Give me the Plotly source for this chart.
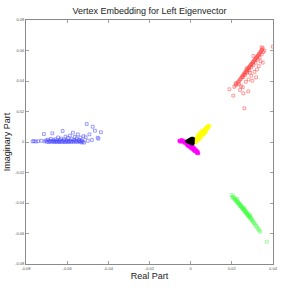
import plotly.graph_objects as go

# ---- data ----
blue_x = [-0.0768,-0.0761,-0.0752,-0.0741,-0.0725,-0.0713,-0.0709,-0.0703,
          -0.0698,-0.0694,-0.0690,-0.0686,-0.0682,-0.0679,-0.0675,-0.0672,-0.0670,-0.0667,
          -0.0663,-0.0660,-0.0657,-0.0654,-0.0650,-0.0647,-0.0644,-0.0641,-0.0638,-0.0635,
          -0.0632,-0.0629,-0.0626,-0.0622,-0.0620,-0.0617,-0.0614,-0.0611,-0.0608,-0.0605,
          -0.0602,-0.0599,-0.0596,-0.0593,-0.0590,-0.0587,-0.0584,-0.0581,-0.0578,-0.0575,
          -0.0572,-0.0569,-0.0566,-0.0563,-0.0560,-0.0557,-0.0554,-0.0551,-0.0548,-0.0545,
          -0.0542,-0.0539,-0.0536,-0.0533,-0.0530,-0.0527,-0.0524,-0.0521,-0.0518,
          -0.0505,-0.0492,-0.0480,-0.0476,-0.0465,-0.0452,-0.0448,-0.0436,-0.0510,-0.0500]
blue_y = [0.0004,0.0006,0.0003,0.0005,0.0008,0.0052,0.0004,0.0010,
          0.0002,0.0015,0.0000,0.0008,0.0003,0.0020,0.0001,0.0057,0.0006,0.0012,
          0.0000,0.0004,0.0018,0.0002,0.0009,0.0001,0.0030,0.0005,0.0000,0.0013,
          0.0003,0.0022,0.0001,0.0072,0.0007,0.0002,0.0016,0.0000,0.0035,0.0004,
          0.0011,0.0001,0.0026,0.0006,0.0000,0.0042,0.0009,0.0002,0.0019,0.0004,
          0.0061,0.0001,0.0012,0.0033,0.0003,0.0008,0.0024,0.0000,0.0050,0.0006,
          0.0014,0.0002,0.0029,0.0005,-0.0003,0.0010,0.0002,0.0038,-0.0004,
          0.0118,0.0050,0.0013,0.0100,0.0074,0.0028,0.0022,0.0064,0.0031,0.0008]

red_x = [0.0212,0.0218,0.0222,0.0228,0.0231,0.0236,0.0240,0.0243,0.0247,0.0250,0.0254,0.0257,
         0.0260,0.0263,0.0266,0.0269,0.0272,0.0275,0.0278,0.0281,0.0284,0.0287,0.0290,0.0293,
         0.0296,0.0299,0.0302,0.0305,0.0308,0.0311,0.0314,0.0317,0.0320,0.0323,0.0326,0.0329,
         0.0332,0.0335,0.0338,0.0341,0.0344,0.0347,0.0350,0.0345,
         0.0255,0.0265,0.0275,0.0285,0.0295,0.0305,0.0315,0.0325,0.0335,0.0345,0.0352,0.0358,
         0.0305,0.0350,0.0331,0.0272,0.0288,0.0318,0.0300,0.0219,0.0235,0.0253,0.0188,0.0240,
         0.0280,0.0207,0.0256,0.0261,0.0399,0.0310,0.0295,0.0322,0.0340,0.0282,0.0268,0.0245]
red_y = [0.0362,0.0371,0.0380,0.0386,0.0395,0.0401,0.0410,0.0414,0.0423,0.0428,0.0436,0.0440,
         0.0447,0.0452,0.0458,0.0462,0.0469,0.0473,0.0480,0.0484,0.0491,0.0495,0.0502,0.0506,
         0.0512,0.0516,0.0523,0.0527,0.0533,0.0537,0.0544,0.0548,0.0554,0.0558,0.0565,0.0569,
         0.0576,0.0581,0.0588,0.0594,0.0601,0.0608,0.0615,0.0621,
         0.0425,0.0440,0.0455,0.0470,0.0490,0.0505,0.0520,0.0540,0.0555,0.0575,0.0590,0.0599,
         0.0564,0.0520,0.0498,0.0483,0.0454,0.0424,0.0402,0.0385,0.0378,0.0359,0.0346,0.0341,
         0.0332,0.0304,0.0319,0.0221,0.0625,0.0460,0.0435,0.0475,0.0530,0.0410,0.0395,0.0365]

green_x = [0.0199,0.0205,0.0203,0.0210,0.0212,0.0215,0.0218,0.0220,0.0223,0.0225,0.0228,0.0230,
           0.0232,0.0234,0.0236,0.0238,0.0240,0.0242,0.0244,0.0246,0.0248,0.0250,0.0252,0.0254,
           0.0256,0.0258,0.0260,0.0262,0.0264,0.0266,0.0268,0.0270,0.0272,0.0274,0.0276,0.0278,
           0.0280,0.0282,0.0284,0.0286,0.0288,0.0290,0.0293,0.0296,0.0299,0.0302,0.0305,0.0309,
           0.0313,0.0318,0.0323,0.0328,0.0333,0.0337,0.0370,0.0225,0.0262,0.0290]
green_y = [-0.0348,-0.0358,-0.0365,-0.0362,-0.0372,-0.0375,-0.0384,-0.0378,-0.0390,-0.0388,-0.0398,-0.0394,
           -0.0404,-0.0400,-0.0410,-0.0407,-0.0418,-0.0413,-0.0424,-0.0420,-0.0430,-0.0427,-0.0437,-0.0433,
           -0.0443,-0.0440,-0.0450,-0.0446,-0.0457,-0.0453,-0.0464,-0.0460,-0.0471,-0.0466,-0.0478,-0.0473,
           -0.0484,-0.0480,-0.0491,-0.0487,-0.0497,-0.0494,-0.0505,-0.0506,-0.0516,-0.0518,-0.0528,-0.0532,
           -0.0541,-0.0550,-0.0560,-0.0570,-0.0580,-0.0588,-0.0654,-0.0372,-0.0436,-0.0480]

yellow_x = [0.0015,0.0020,0.0018,0.0025,0.0024,0.0030,0.0028,0.0035,0.0033,0.0040,0.0038,0.0045,
            0.0043,0.0050,0.0048,0.0055,0.0053,0.0060,0.0058,0.0065,0.0063,0.0070,0.0068,0.0075,
            0.0073,0.0080,0.0078,0.0085,0.0083,0.0090,0.0022,0.0032,0.0042,0.0052,0.0062,0.0072,
            0.0012,0.0036,0.0056,0.0046]
yellow_y = [-0.0003,0.0005,0.0010,0.0008,0.0016,0.0015,0.0023,0.0022,0.0030,0.0030,0.0037,0.0037,
            0.0044,0.0044,0.0051,0.0052,0.0058,0.0058,0.0066,0.0066,0.0073,0.0073,0.0080,0.0081,
            0.0088,0.0088,0.0095,0.0097,0.0102,0.0105,-0.0002,0.0008,0.0020,0.0035,0.0049,0.0064,
            0.0008,0.0045,0.0072,0.0060]

magenta_x = [-0.0044,-0.0038,-0.0035,-0.0030,-0.0028,-0.0022,-0.0020,-0.0014,-0.0012,-0.0006,-0.0004,
             0.0002,0.0004,0.0010,0.0011,0.0016,0.0017,0.0022,0.0023,0.0028,0.0029,0.0034,0.0037,
             0.0031,-0.0016,-0.0008,0.0000,0.0007,0.0014,0.0020,-0.0055,-0.0050]
magenta_y = [0.0013,0.0008,0.0001,0.0003,-0.0006,-0.0004,-0.0013,-0.0011,-0.0020,-0.0018,-0.0027,
             -0.0025,-0.0034,-0.0032,-0.0041,-0.0040,-0.0049,-0.0048,-0.0057,-0.0056,-0.0064,-0.0064,-0.0074,
             -0.0072,-0.0022,-0.0030,-0.0038,-0.0045,-0.0053,-0.0060,0.0008,0.0002]

black_x = [-0.0019,-0.0014,-0.0012,-0.0010,-0.0006,-0.0006,-0.0004,-0.0002,0.0000,0.0000,
           0.0003,0.0004,0.0005,0.0006,0.0009,0.0010,0.0010,0.0011,0.0012,0.0013]
black_y = [0.0005,0.0004,0.0010,0.0000,0.0014,-0.0002,0.0006,0.0018,-0.0006,0.0008,
           0.0022,-0.0010,0.0012,0.0002,0.0024,-0.0012,0.0016,0.0006,-0.0004,0.0020]

x_ticks = [-0.08, -0.06, -0.04, -0.02, 0, 0.02, 0.04]
x_tick_labels = ["-0.08", "-0.06", "-0.04", "-0.02", "0", "0.02", "0.04"]
y_ticks = [-0.08, -0.06, -0.04, -0.02, 0, 0.02, 0.04, 0.06, 0.08]
y_tick_labels = ["-0.08", "-0.06", "-0.04", "-0.02", "0", "0.02", "0.04", "0.06", "0.08"]

fig = go.Figure()

def add(xs, ys, color, symbol="square-open", size=2.8, opacity=0.75):
    fig.add_trace(go.Scatter(
        x=xs, y=ys, mode="markers", opacity=opacity,
        marker=dict(symbol=symbol, size=size, color=color, line=dict(color=color, width=0.5)),
        showlegend=False, hoverinfo="skip"))

add(blue_x, blue_y, "#0000ff")
add(red_x, red_y, "#ff0000")
add(green_x, green_y, "#00ff00")
add(yellow_x, yellow_y, "#ffff00", symbol="square", size=3, opacity=1)
add(magenta_x, magenta_y, "#ff00ff", symbol="square", size=3, opacity=1)
add(black_x, black_y, "#000000", symbol="square", size=2.5, opacity=1)

axis_common = dict(
    showgrid=False, zeroline=False, showline=True, linecolor="#8a8a8a", linewidth=1,
    mirror="ticks", ticks="inside", ticklen=3, tickcolor="#8a8a8a", tickwidth=0.8,
    automargin=False,
    tickfont=dict(size=4, color="#555555", family="Liberation Sans, Arial, sans-serif"),
)

fig.update_layout(
    width=291, height=291,
    margin=dict(l=26, r=18, t=20, b=27),
    paper_bgcolor="white", plot_bgcolor="white",
    font=dict(family="Liberation Sans, Arial, sans-serif", color="#222222"),
    title=dict(text="Vertex Embedding for Left Eigenvector", x=0.5, xref="paper",
               xanchor="center", y=0.964, yanchor="middle", font=dict(size=9, color="#222222")),
    xaxis=dict(range=[-0.08, 0.04], tickvals=x_ticks, ticktext=x_tick_labels,
               title=dict(text="Real Part", font=dict(size=9), standoff=1), **axis_common),
    yaxis=dict(range=[-0.08, 0.08], tickvals=y_ticks, ticktext=y_tick_labels,
               title=dict(text="Imaginary Part", font=dict(size=9), standoff=2), **axis_common),
)

fig.write_html("out.html", config={"displayModeBar": False, "staticPlot": True},
               post_script="document.body.style.margin='0';document.body.style.padding='0';")
